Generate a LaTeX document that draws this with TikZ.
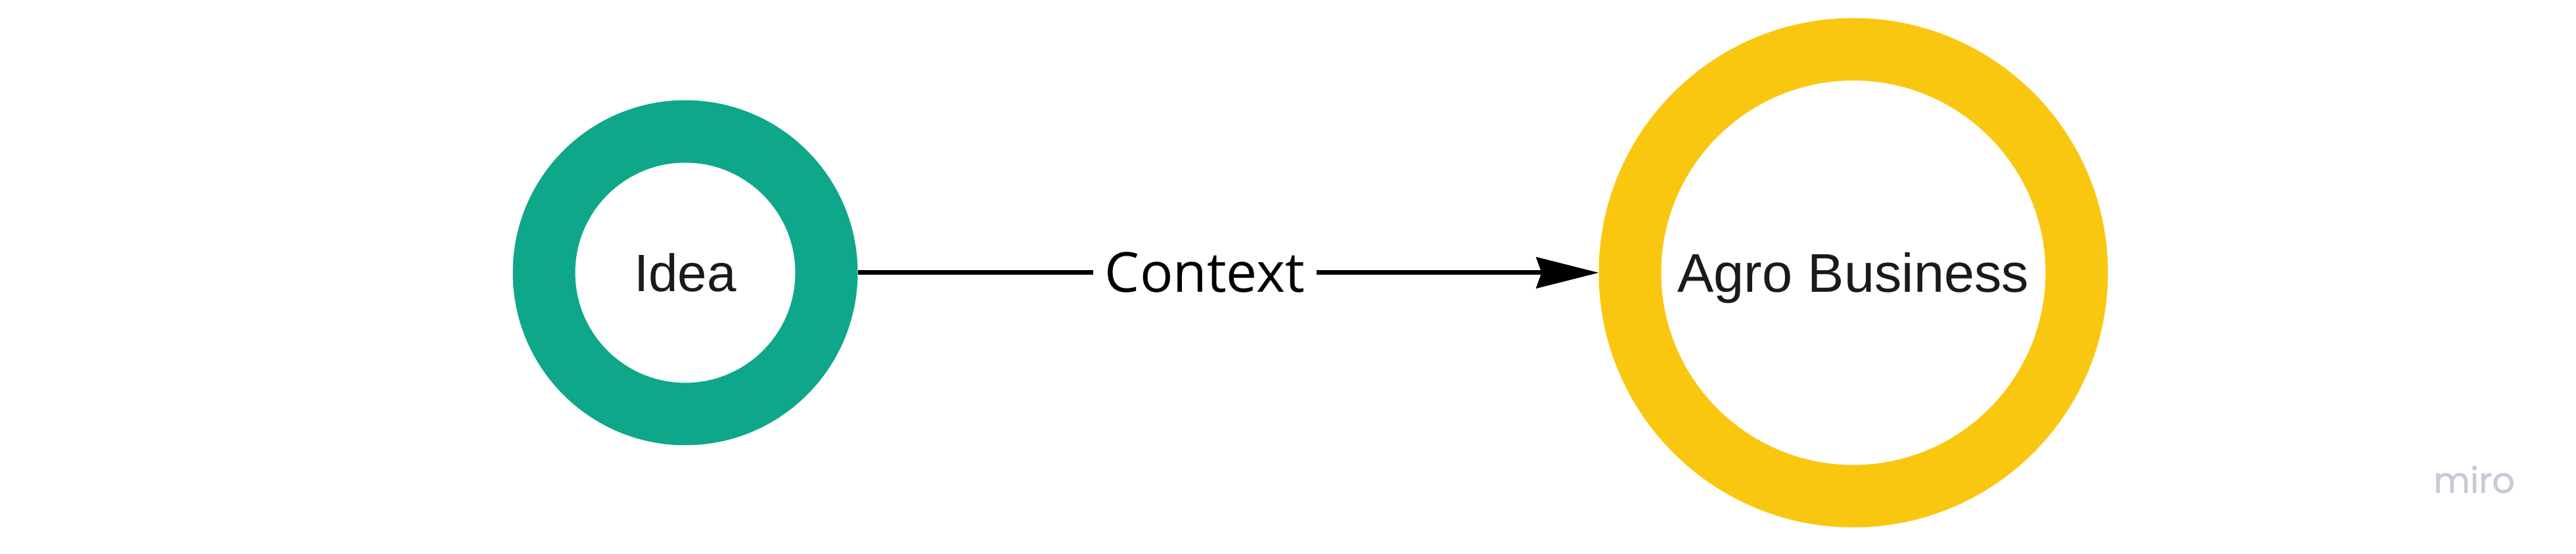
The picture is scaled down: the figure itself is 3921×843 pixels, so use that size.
\documentclass[tikz,border=0pt]{standalone}
\usepackage{fontspec}
\setmainfont{Liberation Sans}
\newfontfamily\ctxfont{Open Sans}
\newfontfamily\mirofont{Poppins}[FakeBold=0.8]
\usetikzlibrary{arrows.meta}
\definecolor{ideateal}{RGB}{14,167,137}
\definecolor{agroyellow}{RGB}{250,199,16}
\definecolor{txtdark}{RGB}{26,26,26}
\definecolor{mirogray}{RGB}{200,200,216}
\tikzset{
  ringnode/.style={circle, draw=#1, line width=95pt, fill=white, inner sep=0pt, outer sep=47.5pt,
    text=txtdark, font=\fontsize{80}{96}\selectfont, text height=58pt, text depth=0pt},
  connector/.style={line width=7pt, -{Stealth[length=95pt, width=47pt, inset=8pt]}},
  labelbox/.style={fill=white, inner xsep=18pt, inner ysep=4pt, font=\ctxfont\fontsize{84}{100}\selectfont, text=black}
}
\begin{document}
\begin{tikzpicture}[x=1pt,y=1pt]
\path[use as bounding box, fill=white] (0,0) rectangle (3921,843);
\node[ringnode=ideateal, minimum size=430pt] (idea) at (1043,428) {Idea};
\node[ringnode=agroyellow, minimum size=680pt, font=\fontsize{83}{98}\selectfont, text height=60pt] (agro) at (2821,428) {Agro Business};
\draw[connector] (idea) -- (agro);
\node[labelbox] (ctx) at (1834,428) {Context};
\node[font=\mirofont\fontsize{54}{60}\selectfont, text=mirogray, anchor=base west, inner sep=0pt] (miro) at (3704,93) {miro};
\end{tikzpicture}
\end{document}
